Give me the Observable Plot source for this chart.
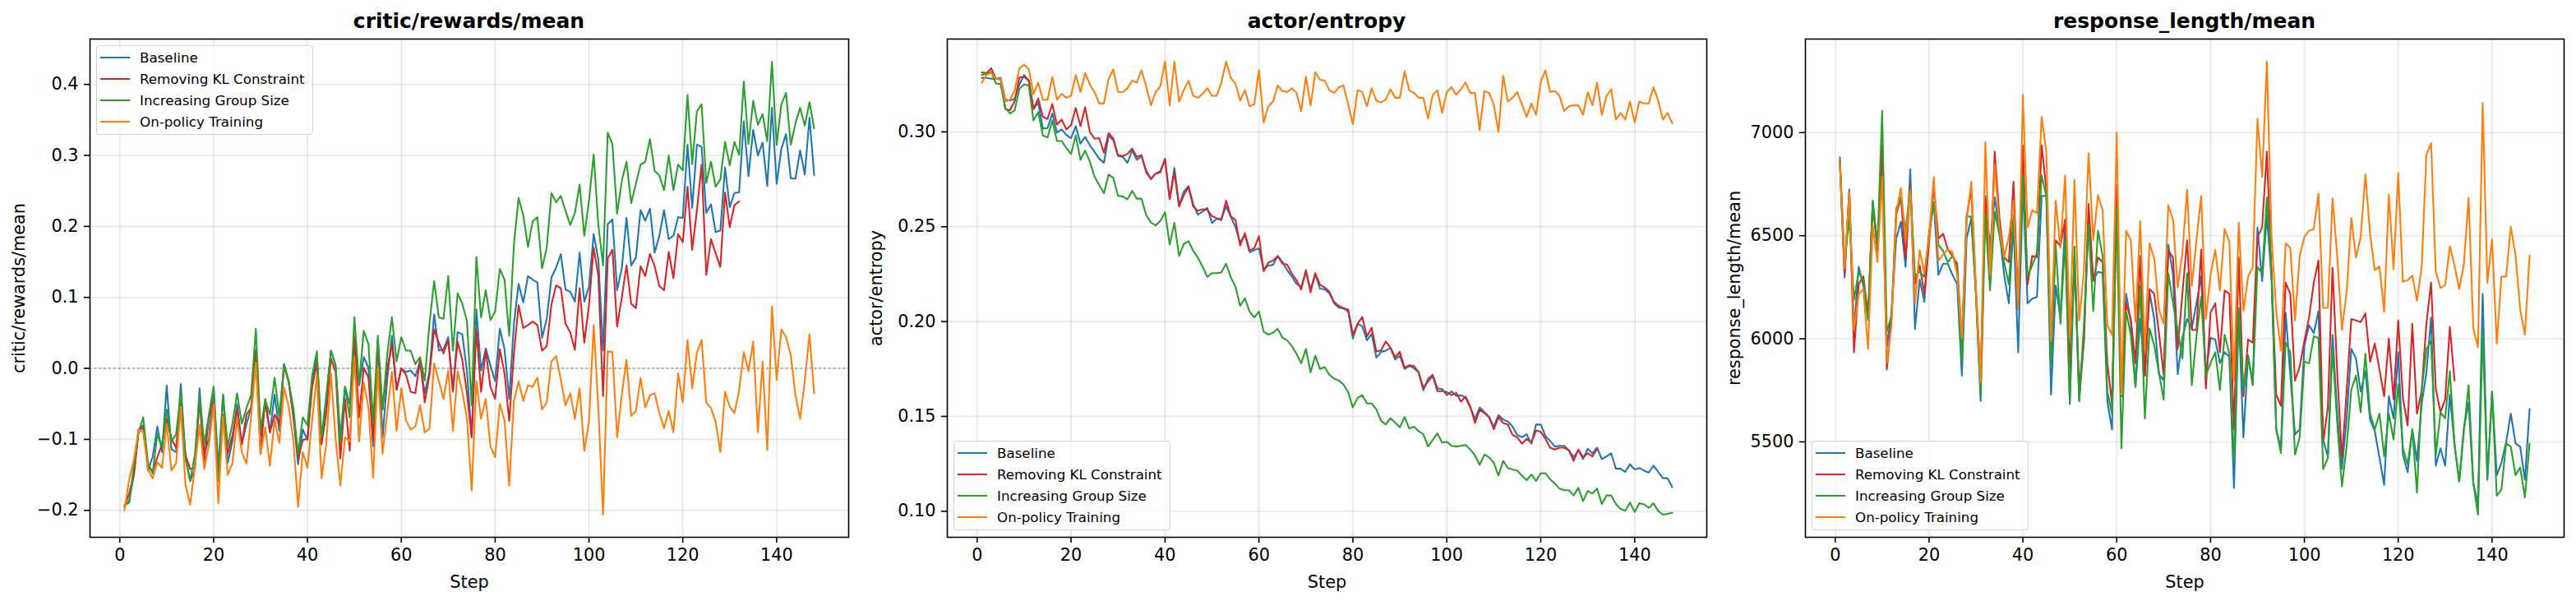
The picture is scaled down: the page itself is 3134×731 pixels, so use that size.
<!DOCTYPE html>
<html>
<head>
<meta charset="utf-8">
<script src="https://cdn.jsdelivr.net/npm/d3@7"></script>
<script src="https://cdn.jsdelivr.net/npm/@observablehq/plot@0.6"></script>
<style>
  html, body { margin: 0; padding: 0; background: #fff; }
  #root { position: relative; width: 3134px; height: 731px; background: #fff; overflow: hidden; }
  .panel { position: absolute; top: 0; height: 731px; }
  .panel svg { position: absolute; left: 0; top: 0; }
  .title {
    position: absolute; top: 11px; text-align: center;
    font-family: "DejaVu Sans", sans-serif; font-weight: bold; font-size: 25px; line-height: 30px; color: #000;
    white-space: nowrap;
  }
  .legend {
    position: absolute; background: rgba(255,255,255,0.8);
    border: 1.5px solid #d4d4d4; border-radius: 4px;
    padding: 1px 9px 2px 4px;
    font-family: "DejaVu Sans", sans-serif; font-size: 16.7px; color: #000;
  }
  .legend .row { display: flex; align-items: center; height: 26px; white-space: nowrap; }
  .legend .swatch { width: 36px; height: 2.1px; margin-right: 12px; }
</style>
</head>
<body>
<div id="root"></div>
<script>
// Training metrics per step for four GRPO variants.
const stepCount = 148;      // Baseline, Increasing Group Size, On-policy Training
const stepCountKL = 132;    // Removing KL Constraint run stopped earlier

const seriesNames = ["Baseline", "Removing KL Constraint", "Increasing Group Size", "On-policy Training"];
const seriesColors = ["#1f77b4", "#d62728", "#2ca02c", "#ff7f0e"];

const xTicks = [0, 20, 40, 60, 80, 100, 120, 140];
const rewardTicks = [-0.2, -0.1, 0.0, 0.1, 0.2, 0.3, 0.4];
const entropyTicks = [0.10, 0.15, 0.20, 0.25, 0.30];
const lengthTicks = [5500, 6000, 6500, 7000];

// critic/rewards/mean
const rewardBaseline = [
  -0.193, -0.187, -0.15, -0.086, -0.08, -0.144, -0.125, -0.082, -0.118, -0.024,
  -0.114, -0.118, -0.022, -0.125, -0.159, -0.142, -0.028, -0.12, -0.099, -0.026,
  -0.14, -0.037, -0.133, -0.103, -0.05, -0.107, -0.078, -0.056, 0.027, -0.095,
  -0.048, -0.09, -0.037, -0.088, 0.006, -0.018, -0.069, -0.135, -0.086, -0.101,
  -0.018, 0.019, -0.103, -0.043, 0.025, 0.004, -0.097, -0.026, -0.05, 0.046,
  -0.024, 0.016, 0.001, -0.11, 0.04, -0.097, -0.016, 0.046, -0.03, 0.0,
  -0.005, -0.003, -0.011, 0.01, -0.035, -0.005, 0.076, 0.025, 0.027, 0.044,
  -0.033, 0.051, 0.048, -0.005, -0.097, 0.083, -0.003, 0.028, 0.004, -0.018,
  0.056, 0.027, -0.043, 0.063, 0.119, 0.093, 0.13, 0.125, 0.121, 0.043,
  0.07, 0.128, 0.142, 0.161, 0.111, 0.108, 0.094, 0.163, 0.094, 0.115,
  0.189, 0.153, 0.025, 0.203, 0.21, 0.11, 0.141, 0.212, 0.145, 0.156,
  0.223, 0.208, 0.225, 0.163, 0.187, 0.223, 0.182, 0.187, 0.213, 0.212,
  0.315, 0.226, 0.315, 0.312, 0.219, 0.231, 0.192, 0.194, 0.283, 0.227,
  0.247, 0.248, 0.348, 0.271, 0.336, 0.30, 0.318, 0.257, 0.367, 0.26,
  0.309, 0.33, 0.268, 0.267, 0.307, 0.273, 0.353, 0.272
];
const rewardNoKL = [
  -0.195, -0.176, -0.15, -0.09, -0.082, -0.137, -0.146, -0.125, -0.107, -0.071,
  -0.099, -0.112, -0.05, -0.122, -0.142, -0.14, -0.045, -0.131, -0.069, -0.045,
  -0.15, -0.065, -0.12, -0.095, -0.058, -0.107, -0.065, -0.056, 0.025, -0.12,
  -0.043, -0.09, -0.065, -0.078, 0.004, -0.02, -0.065, -0.127, -0.101, -0.099,
  -0.026, 0.008, -0.107, -0.063, 0.014, -0.005, -0.127, -0.043, -0.116, 0.045,
  -0.069, 0.001, -0.013, -0.101, 0.034, -0.058, 0.0, 0.034, -0.03, 0.0,
  -0.009, -0.033, -0.035, 0.012, -0.048, -0.009, 0.055, 0.036, 0.021, 0.04,
  -0.031, 0.038, 0.012, -0.035, -0.097, 0.055, -0.033, 0.025, -0.026, -0.043,
  0.027, -0.007, -0.074, 0.021, 0.089, 0.057, 0.061, 0.066, 0.061, 0.025,
  0.031, 0.09, 0.117, 0.113, 0.063, 0.051, 0.026, 0.113, 0.036, 0.089,
  0.17, 0.13, -0.039, 0.155, 0.167, 0.059, 0.1, 0.145, 0.091, 0.085,
  0.144, 0.13, 0.161, 0.144, 0.116, 0.11, 0.164, 0.127, 0.189, 0.178,
  0.256, 0.167, 0.222, 0.287, 0.132, 0.182, 0.162, 0.143, 0.248, 0.199,
  0.23, 0.235
];
const rewardGroup = [
  -0.193, -0.189, -0.137, -0.09, -0.069, -0.133, -0.148, -0.093, -0.11, -0.058,
  -0.103, -0.093, -0.035, -0.127, -0.158, -0.122, -0.039, -0.107, -0.065, -0.026,
  -0.159, -0.037, -0.11, -0.078, -0.035, -0.078, -0.056, -0.037, 0.056, -0.086,
  -0.045, -0.065, -0.013, -0.067, 0.004, -0.018, -0.056, -0.12, -0.069, -0.08,
  -0.01, 0.024, -0.097, -0.039, 0.025, 0.004, -0.105, -0.026, -0.069, 0.072,
  -0.022, 0.053, 0.034, -0.075, 0.046, -0.058, 0.02, 0.072, 0.01, 0.044,
  0.025, 0.025, 0.006, 0.016, -0.017, 0.063, 0.123, 0.072, 0.07, 0.13,
  0.025, 0.106, 0.091, 0.066, -0.052, 0.157, 0.072, 0.11, 0.068, 0.08,
  0.14, 0.125, 0.046, 0.175, 0.24, 0.216, 0.171, 0.207, 0.213, 0.141,
  0.17, 0.247, 0.234, 0.243, 0.222, 0.202, 0.219, 0.259, 0.187, 0.236,
  0.301, 0.202, 0.145, 0.332, 0.316, 0.218, 0.264, 0.291, 0.233, 0.26,
  0.287, 0.291, 0.323, 0.278, 0.272, 0.251, 0.30, 0.251, 0.287, 0.279,
  0.385, 0.288, 0.362, 0.372, 0.261, 0.291, 0.256, 0.266, 0.319, 0.286,
  0.319, 0.301, 0.404, 0.316, 0.377, 0.343, 0.358, 0.32, 0.432, 0.315,
  0.372, 0.388, 0.315, 0.345, 0.367, 0.342, 0.375, 0.338
];
const rewardOnPolicy = [
  -0.20, -0.156, -0.129, -0.086, -0.09, -0.142, -0.155, -0.132, -0.14, -0.078,
  -0.144, -0.134, -0.054, -0.164, -0.192, -0.14, -0.08, -0.142, -0.107, -0.051,
  -0.19, -0.067, -0.15, -0.134, -0.07, -0.118, -0.134, -0.067, 0.008, -0.121,
  -0.083, -0.137, -0.072, -0.105, -0.027, -0.054, -0.102, -0.195, -0.118, -0.14,
  -0.073, -0.01, -0.155, -0.107, -0.007, -0.1, -0.165, -0.097, -0.103, 0.016,
  -0.103, -0.02, -0.056, -0.154, 0.0, -0.12, -0.063, -0.005, -0.088, -0.028,
  -0.073, -0.086, -0.082, -0.052, -0.09, -0.085, 0.007, -0.018, -0.043, -0.003,
  -0.088, -0.004, -0.033, -0.071, -0.172, -0.018, -0.071, -0.043, -0.11, -0.125,
  -0.05, -0.073, -0.165, -0.046, -0.018, -0.046, -0.024, -0.026, -0.013, -0.058,
  -0.048, 0.01, 0.017, -0.016, -0.052, -0.035, -0.071, -0.028, -0.116, -0.075,
  0.061, -0.056, -0.206, 0.024, 0.023, -0.097, -0.037, 0.012, -0.067, -0.06,
  -0.014, -0.055, -0.038, -0.035, -0.063, -0.084, -0.06, -0.09, -0.007, -0.048,
  0.04, -0.028, 0.022, 0.04, -0.048, -0.056, -0.075, -0.118, -0.033, -0.054,
  -0.063, -0.031, 0.023, -0.004, 0.038, -0.09, 0.01, -0.115, 0.087, -0.016,
  0.055, 0.044, 0.019, -0.037, -0.071, -0.018, 0.048, -0.035
];

// actor/entropy
const entropyBaseline = [
  0.3285, 0.3285, 0.328, 0.328, 0.3285, 0.317, 0.3165, 0.3175, 0.325, 0.330,
  0.327, 0.312, 0.3155, 0.3017, 0.302, 0.3097, 0.2996, 0.3013, 0.2984, 0.2967,
  0.303, 0.2938, 0.2974, 0.293, 0.2895, 0.2858, 0.2837, 0.298, 0.2955, 0.2873,
  0.2868, 0.2837, 0.2902, 0.2853, 0.2873, 0.2796, 0.275, 0.278, 0.2793, 0.2853,
  0.2648, 0.281, 0.2613, 0.2685, 0.2714, 0.262, 0.2563, 0.258, 0.2599, 0.252,
  0.2541, 0.2543, 0.2608, 0.2553, 0.2497, 0.2416, 0.2457, 0.2366, 0.2376, 0.2386,
  0.2275, 0.2295, 0.2299, 0.2345, 0.2315, 0.2271, 0.2238, 0.2198, 0.2184, 0.2259,
  0.217, 0.2251, 0.2174, 0.217, 0.2149, 0.2097, 0.2073, 0.2069, 0.2053, 0.1911,
  0.1988, 0.1976, 0.1901, 0.1935, 0.181, 0.184, 0.1846, 0.1861, 0.18, 0.182,
  0.175, 0.1766, 0.1754, 0.1733, 0.1638, 0.1699, 0.1719, 0.1648, 0.1644, 0.1612,
  0.1632, 0.1608, 0.1612, 0.1598, 0.1547, 0.1487, 0.1547, 0.1523, 0.1497, 0.1446,
  0.1507, 0.1483, 0.1473, 0.1446, 0.1402, 0.139, 0.1406, 0.1356, 0.1457, 0.1457,
  0.1396, 0.137, 0.1341, 0.1345, 0.1345, 0.1321, 0.1285, 0.1321, 0.1275, 0.1329,
  0.1305, 0.1335, 0.1275, 0.1289, 0.1305, 0.1224, 0.1224, 0.1208, 0.1248, 0.122,
  0.1228, 0.1214, 0.1204, 0.124, 0.1208, 0.1174, 0.1174, 0.1127
];
const entropyNoKL = [
  0.3313, 0.331, 0.3335, 0.328, 0.3277, 0.312, 0.3114, 0.3162, 0.3287, 0.329,
  0.327, 0.312, 0.3176, 0.308, 0.3068, 0.3147, 0.3039, 0.3065, 0.3013, 0.3036,
  0.3126, 0.303, 0.313, 0.30, 0.2964, 0.2967, 0.289, 0.2993, 0.2964, 0.2877,
  0.2873, 0.2883, 0.2912, 0.2868, 0.2877, 0.2786, 0.2753, 0.278, 0.2786, 0.2858,
  0.2645, 0.2786, 0.2606, 0.2666, 0.271, 0.2606, 0.2584, 0.2592, 0.2589, 0.2556,
  0.2545, 0.2535, 0.2638, 0.2555, 0.2535, 0.2401, 0.2466, 0.2376, 0.2386, 0.2451,
  0.2265, 0.2311, 0.2321, 0.2345, 0.2305, 0.2301, 0.2253, 0.2218, 0.2168, 0.2271,
  0.2154, 0.2255, 0.2194, 0.218, 0.2157, 0.2103, 0.2083, 0.2071, 0.2063, 0.1931,
  0.1988, 0.2024, 0.1921, 0.1967, 0.1842, 0.1848, 0.1895, 0.1863, 0.1812, 0.184,
  0.1757, 0.177, 0.1766, 0.1733, 0.165, 0.1683, 0.1715, 0.1633, 0.1634, 0.1628,
  0.1612, 0.1624, 0.1578, 0.1604, 0.1552, 0.1465, 0.1535, 0.1518, 0.1496, 0.1432,
  0.1497, 0.1465, 0.1457, 0.1402, 0.139, 0.1356, 0.1382, 0.1362, 0.1426, 0.1418,
  0.1382, 0.1335, 0.1325, 0.1335, 0.1335, 0.1321, 0.1265, 0.1325, 0.1285, 0.1305,
  0.1289, 0.1329
];
const entropyGroup = [
  0.33, 0.3306, 0.3316, 0.3255, 0.3252, 0.3126, 0.3097, 0.3114, 0.3227, 0.325,
  0.3245, 0.306, 0.3104, 0.2981, 0.297, 0.306, 0.2952, 0.2952, 0.2916, 0.2883,
  0.2981, 0.2853, 0.2901, 0.2843, 0.2763, 0.272, 0.2677, 0.2775, 0.2757, 0.2663,
  0.266, 0.2645, 0.2689, 0.2648, 0.2648, 0.2561, 0.2522, 0.2507, 0.253, 0.2576,
  0.2406, 0.252, 0.2346, 0.2409, 0.2424, 0.2373, 0.2337, 0.229, 0.2235, 0.2255,
  0.2255, 0.2259, 0.2305, 0.2234, 0.2184, 0.2083, 0.2123, 0.2053, 0.2022, 0.2053,
  0.1947, 0.1931, 0.1941, 0.1962, 0.1915, 0.1901, 0.1871, 0.183, 0.178, 0.1855,
  0.1733, 0.182, 0.175, 0.176, 0.1719, 0.1699, 0.1689, 0.1669, 0.1628, 0.1547,
  0.1598, 0.1612, 0.1568, 0.1568, 0.1537, 0.1477, 0.1457, 0.1491, 0.1467, 0.1442,
  0.1497, 0.1436, 0.1446, 0.1422, 0.1406, 0.1341, 0.1376, 0.141, 0.1362, 0.1366,
  0.1345, 0.1341, 0.1345, 0.1349, 0.1325, 0.1295, 0.1244, 0.1299, 0.1285, 0.1255,
  0.1188, 0.1265, 0.1228, 0.122, 0.1214, 0.1188, 0.1164, 0.1194, 0.116, 0.12,
  0.12, 0.1168, 0.1147, 0.1119, 0.1111, 0.1111, 0.1083, 0.1123, 0.1053, 0.1107,
  0.1093, 0.1119, 0.1038, 0.1083, 0.1083, 0.1038, 0.1012, 0.1002, 0.1046, 0.0996,
  0.1042, 0.1036, 0.1018, 0.1042, 0.1002, 0.0982, 0.0986, 0.0992
];
const entropyOnPolicy = [
  0.326, 0.33, 0.331, 0.328, 0.328, 0.316, 0.317, 0.322, 0.3335, 0.3355,
  0.333, 0.32, 0.326, 0.317, 0.317, 0.329, 0.317, 0.32, 0.318, 0.319,
  0.33, 0.321, 0.331, 0.325, 0.321, 0.315, 0.315, 0.328, 0.333, 0.321,
  0.321, 0.323, 0.327, 0.326, 0.3325, 0.324, 0.314, 0.321, 0.324, 0.337,
  0.314, 0.337, 0.316, 0.322, 0.327, 0.319, 0.318, 0.32, 0.323, 0.319,
  0.319, 0.326, 0.337, 0.3285, 0.3255, 0.3165, 0.322, 0.3135, 0.3145, 0.3325,
  0.305, 0.3135, 0.316, 0.3245, 0.3215, 0.321, 0.323, 0.3205, 0.311, 0.329,
  0.314, 0.3315, 0.3275, 0.327, 0.322, 0.3205, 0.3235, 0.3245, 0.3145, 0.304,
  0.322, 0.321, 0.3135, 0.323, 0.3165, 0.3155, 0.317, 0.3225, 0.318, 0.318,
  0.332, 0.322, 0.3205, 0.318, 0.318, 0.307, 0.3195, 0.322, 0.31, 0.321,
  0.3235, 0.3195, 0.3225, 0.326, 0.3205, 0.3205, 0.301, 0.3215, 0.3205, 0.3145,
  0.30, 0.3295, 0.316, 0.318, 0.321, 0.3145, 0.308, 0.315, 0.309, 0.3265,
  0.3325, 0.321, 0.3215, 0.319, 0.311, 0.3135, 0.314, 0.314, 0.309, 0.321,
  0.314, 0.326, 0.309, 0.319, 0.3225, 0.3065, 0.31, 0.3065, 0.316, 0.305,
  0.316, 0.315, 0.315, 0.3235, 0.3165, 0.3065, 0.31, 0.3045
];

// response_length/mean
const lengthBaseline = [
  6861, 6298, 6724, 6035, 6349, 6257, 6096, 6662, 6448, 6815,
  5958, 6127, 6486, 6567, 6349, 6823, 6047, 6287, 6180, 6509,
  6662, 6310, 6364, 6364, 6310, 6264, 5821, 6486, 6586, 6218,
  5698, 6686, 6448, 6686, 6525, 6310, 6172, 6555, 5935, 6754,
  6172, 6195, 6203, 6693, 6693, 5729, 6257, 6104, 6570, 5683,
  6400, 5698, 5989, 6586, 6287, 6325, 6318, 5698, 5560, 6739,
  5720, 6218, 6081, 5767, 6096, 5821, 6226, 6096, 5828, 5798,
  6456, 6310, 5828, 6004, 6096, 6050, 6172, 6303, 5828, 6004,
  5996, 5882, 5935, 5912, 5277, 6127, 5522, 5920, 5782, 6540,
  6280, 6600, 6290, 5560, 5469, 6127, 5821, 5536, 5560, 5966,
  6066, 6027, 6134, 5507, 5430, 6019, 5637, 5368, 5614, 5951,
  5904, 5744, 5843, 5607, 5553, 5423, 5292, 5721, 5614, 5935,
  5438, 5353, 5560, 5407, 5683, 5835, 6104, 5384, 5469, 5384,
  5729, 5484, 5308, 5568, 5690, 5300, 5200, 6218, 5316, 5744,
  5338, 5399, 5499, 5637, 5492, 5476, 5316, 5660
];
const lengthNoKL = [
  6846, 6318, 6712, 5935, 6265, 6303, 6111, 6662, 6425, 6938,
  5851, 6100, 6601, 6685, 6387, 6746, 6265, 6356, 6218, 6463,
  6739, 6486, 6509, 6433, 6402, 6364, 5981, 6593, 6724, 6230,
  5805, 6693, 6310, 6907, 6586, 6395, 6372, 6762, 6172, 6938,
  6264, 6402, 6395, 6938, 6724, 5973, 6478, 6448, 6578, 5851,
  6387, 5759, 5989, 6654, 6280, 6395, 6372, 5882, 5683, 6747,
  5750, 6172, 6096, 5882, 6402, 5821, 6241, 6218, 6027, 5828,
  6425, 6395, 5951, 6218, 6478, 6043, 6043, 6433, 5759, 6127,
  6172, 5935, 6234, 6218, 5560, 6395, 5721, 5996, 5981, 6494,
  6540, 6907, 6310, 5729, 5675, 6272, 6218, 5797, 5866, 5989,
  6104, 6272, 6379, 5499, 5668, 6344, 5836, 5422, 5744, 6096,
  6089, 6081, 6123, 5889, 5977, 5851, 5721, 6001, 5706, 6089,
  5713, 5580, 6073, 5637, 5751, 6073, 6272, 5759, 5644, 5706,
  6058, 5797
];
const lengthGroup = [
  6880, 6372, 6585, 6188, 6326, 6280, 6089, 6670, 6448, 7106,
  6035, 6110, 6632, 6685, 6524, 6731, 6303, 6326, 6300, 6509,
  6662, 6456, 6425, 6372, 6402, 6349, 5897, 6593, 6593, 6210,
  5729, 6601, 6234, 6616, 6502, 6372, 6264, 6601, 6142, 6785,
  6303, 6356, 6418, 6793, 6693, 5880, 6456, 6073, 6479, 5698,
  6448, 5698, 6065, 6555, 6134, 6524, 6402, 5744, 5637, 6639,
  5469, 6134, 6019, 5767, 6257, 5614, 6050, 5966, 5836, 5705,
  6318, 6172, 6043, 5904, 6318, 5775, 6012, 6203, 5821, 5882,
  5935, 5752, 6019, 5928, 5407, 6149, 5744, 5912, 5775, 6349,
  6318, 6685, 6330, 5560, 5446, 5981, 5935, 5438, 5522, 5890,
  5880, 6012, 6004, 5368, 5422, 5951, 5591, 5284, 5476, 5752,
  5821, 5644, 5927, 5637, 5560, 5637, 5430, 5637, 5511, 5780,
  5470, 5390, 5560, 5254, 5750, 5950, 5990, 5430, 5644, 5614,
  5843, 5492, 5308, 5553, 5775, 5300, 5147, 6035, 5323, 5744,
  5239, 5269, 5492, 5476, 5338, 5376, 5231, 5492
];
const lengthOnPolicy = [
  6853, 6341, 6712, 6042, 6218, 6241, 5951, 6547, 6372, 6785,
  5882, 6065, 6609, 6731, 6478, 6716, 6172, 6430, 6318, 6494,
  6785, 6379, 6410, 6433, 6418, 6310, 6004, 6570, 6762, 6240,
  5790, 6953, 6310, 6846, 6540, 6395, 6494, 6670, 6142, 7183,
  6540, 6624, 6609, 7076, 6907, 5989, 6670, 6441, 6793, 6004,
  6770, 6089, 6326, 6900, 6478, 6697, 6624, 6065, 6019, 7000,
  5729, 6524, 6478, 6081, 6570, 5943, 6463, 6387, 6142, 6073,
  6647, 6578, 6249, 6418, 6724, 6257, 6478, 6693, 6096, 6310,
  6433, 6234, 6532, 6471, 5797, 6563, 6134, 6302, 6348, 7068,
  6785, 7344, 6494, 6134, 5943, 6463, 6441, 6089, 6402, 6494,
  6525, 6532, 6705, 6150, 6150, 6681, 6402, 6043, 6226, 6586,
  6394, 6494, 6797, 6509, 6333, 6351, 6130, 6700, 6338, 6803,
  6277, 6283, 6307, 6185, 6348, 6892, 6949, 6326, 6246, 6261,
  6448, 6356, 6241, 6364, 6685, 6053, 5958, 7145, 6272, 6482,
  5977, 6302, 6302, 6543, 6405, 6142, 6020, 6405
];

const FONT = "'DejaVu Sans', sans-serif";
const PANEL_HEIGHT = 731;
const MARGIN_TOP = 47;
const MARGIN_BOTTOM = 78;

const asRows = (values) => values.map((value, i) => ({step: i + 1, value}));
const minus = (s) => s.replace("-", "\u2212");

// Pad an extent by 5% on each side, the way matplotlib autoscales.
function padded([lo, hi]) {
  const pad = (hi - lo) * 0.05;
  return [lo - pad, hi + pad];
}

function drawPanel(root, cfg) {
  const div = document.createElement("div");
  div.className = "panel";
  div.style.left = cfg.left + "px";
  div.style.width = cfg.width + "px";
  root.appendChild(div);

  const allValues = cfg.series.flat();
  const xDomain = padded([1, stepCount]);
  const yDomain = padded(d3.extent(allValues));

  const gridStyle = {stroke: "#b0b0b0", strokeOpacity: 0.3, strokeWidth: 1.6};

  const marks = [
    Plot.gridX(xTicks, gridStyle),
    Plot.gridY(cfg.yTicks, gridStyle)
  ];
  if (cfg.zeroRule) {
    marks.push(Plot.ruleY([0], {stroke: "#808080", strokeOpacity: 0.6, strokeWidth: 2, strokeDasharray: "2.5,3.3"}));
  }
  cfg.series.forEach((values, i) => {
    marks.push(Plot.line(asRows(values), {x: "step", y: "value", stroke: seriesColors[i], strokeWidth: 2.1}));
  });
  marks.push(
    Plot.frame({stroke: "#000", strokeWidth: 1.6}),
    Plot.axisX({
      ticks: xTicks, tickFormat: (d) => String(d), tickSize: 7, tickPadding: 7, strokeWidth: 1.6,
      label: "Step", labelAnchor: "center", labelArrow: "none", labelOffset: 61
    }),
    Plot.axisY({
      ticks: cfg.yTicks, tickFormat: cfg.yFormat, tickSize: 7, tickPadding: 7, strokeWidth: 1.6,
      label: cfg.yLabel, labelAnchor: "center", labelArrow: "none", labelOffset: 94
    })
  );

  const chart = Plot.plot({
    width: cfg.width,
    height: PANEL_HEIGHT,
    marginLeft: cfg.marginLeft,
    marginRight: cfg.marginRight,
    marginTop: MARGIN_TOP,
    marginBottom: MARGIN_BOTTOM,
    style: {fontFamily: FONT, fontSize: "20.8px", color: "#000", background: "none", overflow: "visible"},
    x: {domain: xDomain},
    y: {domain: yDomain},
    marks
  });
  div.appendChild(chart);

  const frameWidth = cfg.width - cfg.marginLeft - cfg.marginRight;

  const title = document.createElement("div");
  title.className = "title";
  title.textContent = cfg.title;
  title.style.left = cfg.marginLeft + "px";
  title.style.width = frameWidth + "px";
  div.appendChild(title);

  const legend = document.createElement("div");
  legend.className = "legend";
  legend.style.left = (cfg.marginLeft + 8) + "px";
  if (cfg.legendTop) legend.style.top = (MARGIN_TOP + 8) + "px";
  else legend.style.bottom = (MARGIN_BOTTOM + 8) + "px";
  seriesNames.forEach((name, i) => {
    const row = document.createElement("div");
    row.className = "row";
    const sw = document.createElement("span");
    sw.className = "swatch";
    sw.style.background = seriesColors[i];
    const label = document.createElement("span");
    label.textContent = name;
    row.appendChild(sw);
    row.appendChild(label);
    legend.appendChild(row);
  });
  div.appendChild(legend);
}

const root = document.getElementById("root");

drawPanel(root, {
  left: 0, width: 1044, marginLeft: 109, marginRight: 12,
  title: "critic/rewards/mean", yLabel: "critic/rewards/mean",
  yTicks: rewardTicks, yFormat: (d) => minus(d.toFixed(1)),
  series: [rewardBaseline, rewardNoKL, rewardGroup, rewardOnPolicy],
  zeroRule: true, legendTop: true
});

drawPanel(root, {
  left: 1044, width: 1044, marginLeft: 108, marginRight: 12,
  title: "actor/entropy", yLabel: "actor/entropy",
  yTicks: entropyTicks, yFormat: (d) => d.toFixed(2),
  series: [entropyBaseline, entropyNoKL, entropyGroup, entropyOnPolicy],
  zeroRule: false, legendTop: false
});

drawPanel(root, {
  left: 2088, width: 1046, marginLeft: 108, marginRight: 15,
  title: "response_length/mean", yLabel: "response_length/mean",
  yTicks: lengthTicks, yFormat: (d) => String(d),
  series: [lengthBaseline, lengthNoKL, lengthGroup, lengthOnPolicy],
  zeroRule: false, legendTop: false
});
</script>
</body>
</html>
